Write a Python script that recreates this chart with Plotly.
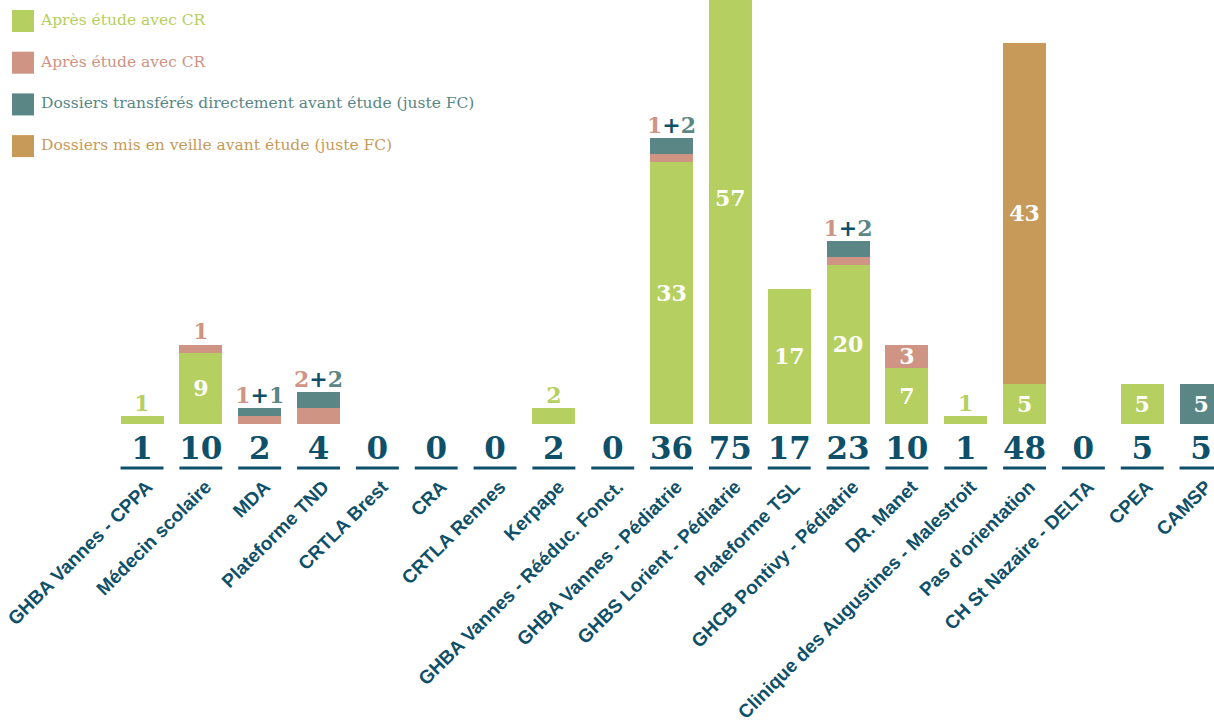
import plotly.graph_objects as go

# ── Data ─────────────────────────────────────────────
categories = [
    "GHBA Vannes - CPPA", "Médecin scolaire", "MDA", "Plateforme TND",
    "CRTLA Brest", "CRA", "CRTLA Rennes", "Kerpape",
    "GHBA Vannes - Rééduc. Fonct.", "GHBA Vannes - Pédiatrie",
    "GHBS Lorient - Pédiatrie", "Plateforme TSL", "GHCB Pontivy - Pédiatrie",
    "DR. Manet", "Clinique des Augustines - Malestroit", "Pas d’orientation",
    "CH St Nazaire - DELTA", "CPEA", "CAMSP",
]
apres_cr_green = [1, 9, 0, 0, 0, 0, 0, 2, 0, 33, 57, 17, 20, 7, 1, 5, 0, 5, 0]
apres_cr_pink  = [0, 1, 1, 2, 0, 0, 0, 0, 0, 1, 0, 0, 1, 3, 0, 0, 0, 0, 0]
transferes     = [0, 0, 1, 2, 0, 0, 0, 0, 0, 2, 0, 0, 2, 0, 0, 0, 0, 0, 5]
en_veille      = [0, 0, 0, 0, 0, 0, 0, 0, 0, 0, 0, 0, 0, 0, 0, 43, 0, 0, 0]
totals         = [1, 10, 2, 4, 0, 0, 0, 2, 0, 36, 75, 17, 23, 10, 1, 48, 0, 5, 5]

legend_labels = [
    "Après étude avec CR",
    "Après étude avec CR",
    "Dossiers transférés directement avant étude (juste FC)",
    "Dossiers mis en veille avant étude (juste FC)",
]

# ── Style ────────────────────────────────────────────
GREEN = "#b5cf60"
PINK  = "#cf9483"
TEAL  = "#5a8685"
TAN   = "#c79a5a"
NAVY  = "#0e5069"
SLAB  = "DejaVu Serif"
SANS  = "Liberation Sans"
INSIDE_MIN = 3          # smaller segments get their value written above the bar
BAR_W = 0.73

series = [
    (apres_cr_green, GREEN),
    (apres_cr_pink, PINK),
    (transferes, TEAL),
    (en_veille, TAN),
]
idx = list(range(len(categories)))

fig = go.Figure()

for values, color in series:
    fig.add_trace(go.Bar(
        x=idx,
        y=values,
        width=BAR_W,
        marker=dict(color=color, line=dict(width=0)),
        showlegend=False,
        hoverinfo="skip",
    ))

# values written inside the big segments (centre of each segment)
in_x, in_y, in_t = [], [], []
base = [0] * len(idx)
for values, _ in series:
    for i in idx:
        v = values[i]
        if v >= INSIDE_MIN:
            in_x.append(i)
            in_y.append(base[i] + v / 2 - 0.3)
            in_t.append(str(v))
        base[i] += v

fig.add_trace(go.Scatter(
    x=in_x, y=in_y, mode="text", text=in_t,
    textfont=dict(family=SLAB, size=22, color="white", weight="bold"),
    showlegend=False, hoverinfo="skip",
))

# small segments: labels above the stack, e.g. "1+2"
tops, small_labels = [], []
for i in idx:
    vals = [s[0][i] for s in series]
    tops.append(sum(vals))
    parts = [f"<span style='color:{c}'>{v}</span>"
             for v, (_, c) in zip(vals, series) if 0 < v < INSIDE_MIN]
    small_labels.append(f"<span style='color:{NAVY}'>+</span>".join(parts))

fig.add_trace(go.Scatter(
    x=idx, y=tops, mode="text", text=small_labels,
    textposition="top center",
    textfont=dict(family=SLAB, size=22, weight="bold"),
    showlegend=False, hoverinfo="skip", cliponaxis=False,
))

# totals row with underline
fig.add_trace(go.Scatter(
    x=idx, y=[-3.45] * len(idx), mode="text", text=[str(t) for t in totals],
    textfont=dict(family=SLAB, size=31, color=NAVY, weight="bold"),
    showlegend=False, hoverinfo="skip", cliponaxis=False,
))
ux, uy = [], []
for i in idx:
    ux += [i - BAR_W / 2, i + BAR_W / 2, None]
    uy += [-5.55, -5.55, None]
fig.add_trace(go.Scatter(
    x=ux, y=uy, mode="lines", line=dict(color=NAVY, width=3),
    showlegend=False, hoverinfo="skip", cliponaxis=False,
))

# legend drawn on an overlay axis in pixel units
leg_y = [21 + 41.7 * k for k in range(len(legend_labels))]
leg_colors = [c for _, c in series]
fig.add_trace(go.Scatter(
    x=[23] * len(legend_labels), y=leg_y,
    xaxis="x2", yaxis="y2", mode="markers",
    marker=dict(symbol="square", size=22, color=leg_colors),
    showlegend=False, hoverinfo="skip", cliponaxis=False,
))
fig.add_trace(go.Scatter(
    x=[41] * len(legend_labels), y=leg_y,
    xaxis="x2", yaxis="y2", mode="text",
    text=legend_labels, textposition="middle right",
    textfont=dict(family=SLAB, size=15.5, color=leg_colors),
    showlegend=False, hoverinfo="skip", cliponaxis=False,
))

fig.update_layout(
    barmode="stack",
    width=1214, height=720,
    margin=dict(l=0, r=0, t=0, b=249, autoexpand=False),
    plot_bgcolor="white", paper_bgcolor="white",
    xaxis=dict(
        range=[-2.414, 18.22],
        tickvals=idx, ticktext=categories, tickangle=-45,
        tickfont=dict(family=SANS, size=19, color=NAVY, weight="bold"),
        ticklabelshift=5,
        ticklabeloverflow="allow",
        showgrid=False, zeroline=False, showline=False, ticks="",
        automargin=False,
    ),
    yaxis=dict(range=[-5.92, 53.4], visible=False, automargin=False),
    xaxis2=dict(overlaying="x", range=[0, 1214], visible=False),
    yaxis2=dict(overlaying="y", range=[471, 0], visible=False),
    showlegend=False,
)

# the page's default body margin would push the figure 8px down/right
fig.write_html(
    "out.html",
    config={"displayModeBar": False},
    post_script="document.body.style.margin='0';",
)
